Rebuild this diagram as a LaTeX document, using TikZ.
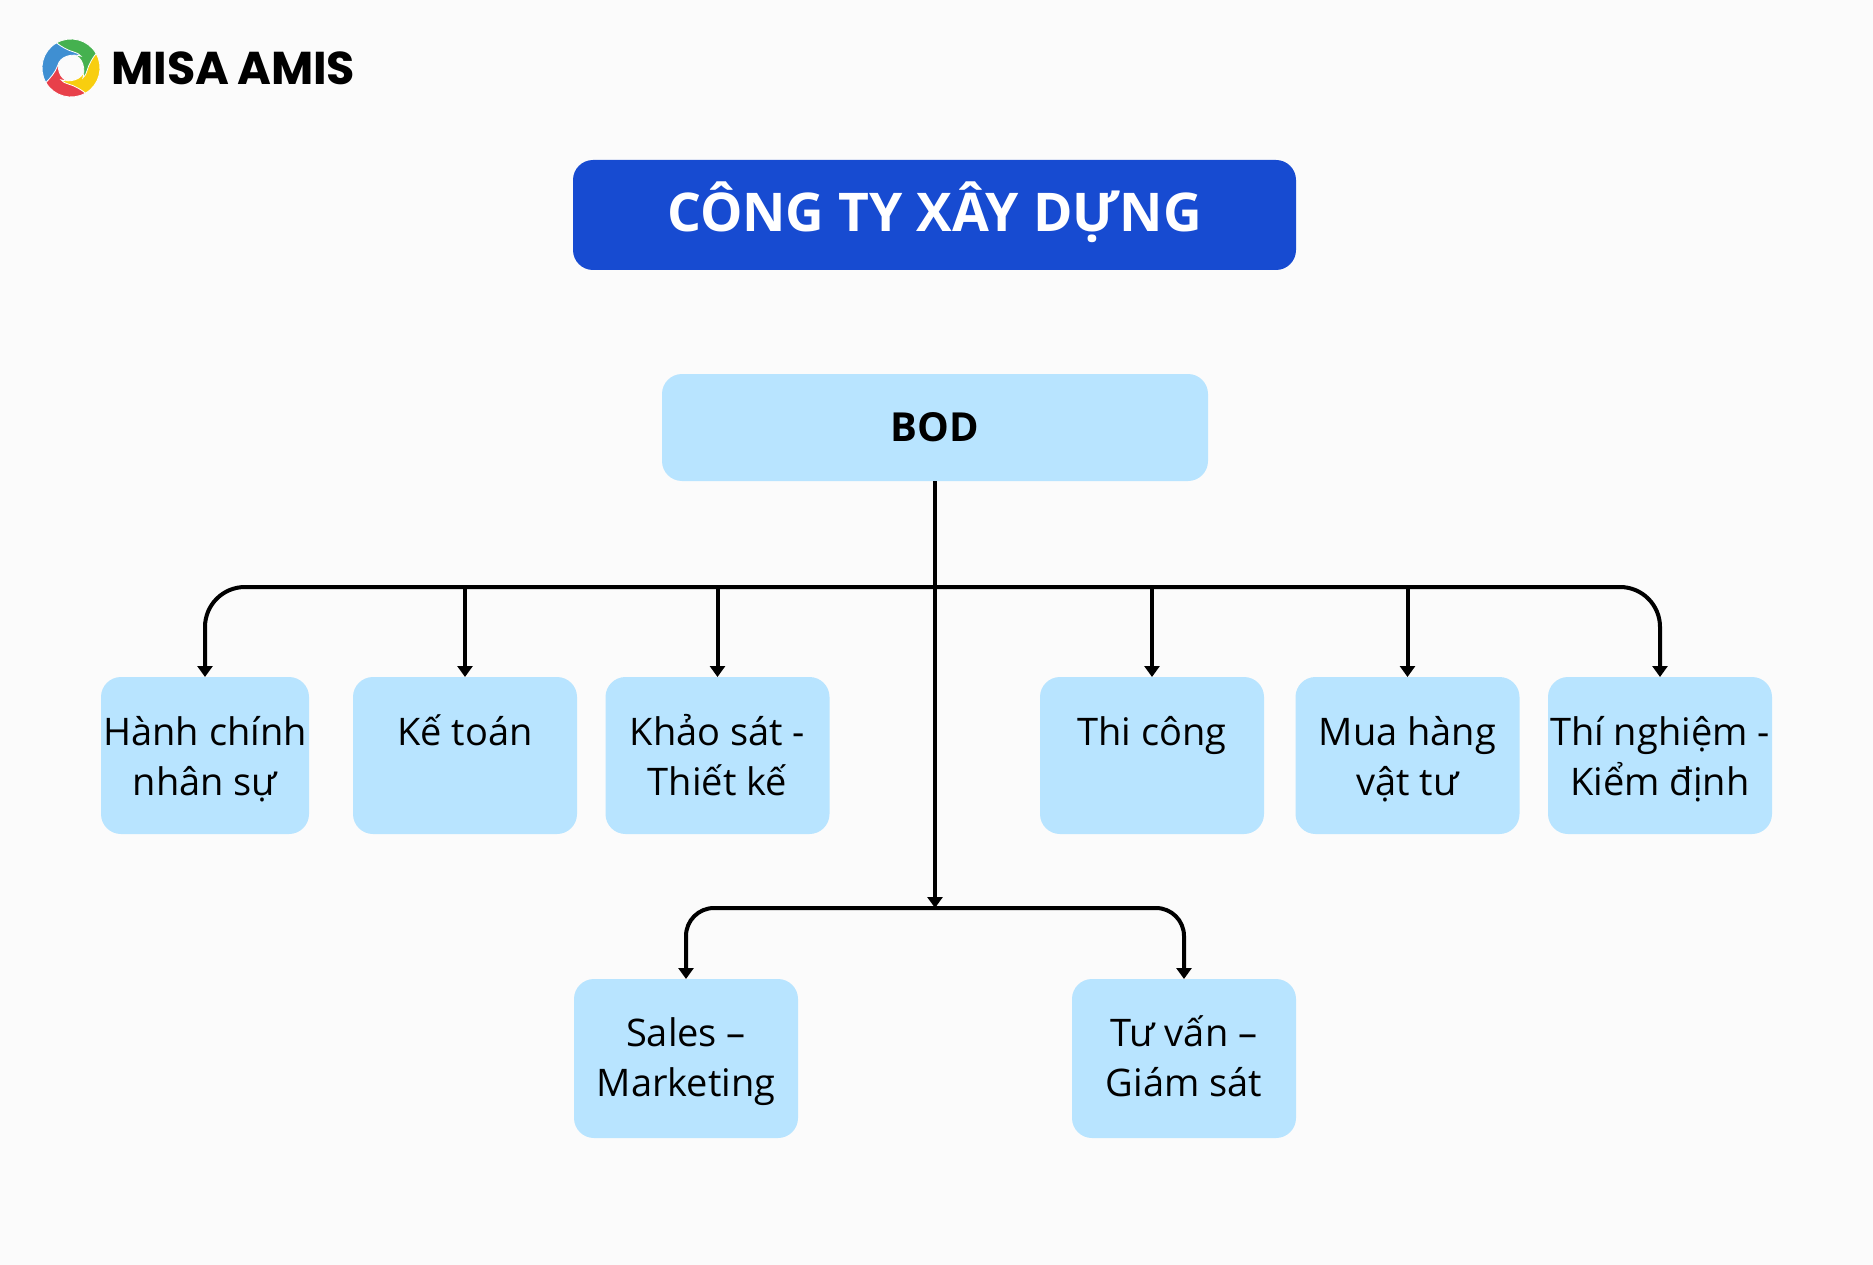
\documentclass[tikz,border=0pt]{standalone}
\usepackage{fontspec}
\setmainfont{Open Sans}
\newfontfamily\logofont{Poppins}
\usetikzlibrary{arrows.meta}
\definecolor{bgc}{HTML}{FBFBFB}
\definecolor{boxc}{HTML}{B8E4FF}
\definecolor{titlec}{HTML}{174BD1}
\definecolor{logoblue}{HTML}{3F8FD2}
\definecolor{logogreen}{HTML}{45B14F}
\definecolor{logoyellow}{HTML}{F8CE0F}
\definecolor{logored}{HTML}{E8404A}
\newcommand\rowa{\rule[-10pt]{0pt}{49pt}}
\newcommand\rowb{\rule[-12pt]{0pt}{49pt}}
\tikzset{
  x=1pt,y=-1pt,
  titlebox/.style={fill=titlec,text=white,rounded corners=20pt,inner sep=0pt,outer sep=0pt,text height=46pt,text depth=12pt,font=\fontsize{53.4}{60}\selectfont\bfseries},
  bodbox/.style={fill=boxc,rounded corners=20pt,inner sep=0pt,outer sep=0pt,font=\fontsize{40}{50}\selectfont\bfseries},
  dept/.style={fill=boxc,rounded corners=20pt,inner sep=0pt,outer sep=0pt,minimum height=157pt,align=center,font=\fontsize{38}{50}\selectfont},
  conn/.style={draw=black,line width=4pt,line join=round,-{Triangle[length=11pt,width=15pt]}},
  connboth/.style={draw=black,line width=4pt,line join=round,{Triangle[length=11pt,width=15pt]}-{Triangle[length=11pt,width=15pt]}},
}
\begin{document}
\begin{tikzpicture}
\useasboundingbox (0,0) rectangle (1873,1265);
\fill[bgc] (0,0) rectangle (1873,1265);
% logo
\begin{scope}[shift={(71,68)},x=29pt,y=29pt]
\foreach \c/\a in {logored/90,logoyellow/180,logogreen/270,logoblue/0}{
  \fill[\c,rotate=\a,draw=white,line width=0.8pt]
    (210:1) arc (210:120:1)
    .. controls (-0.35,0.75) and (-0.15,0.62) .. (0.10,0.55)
    .. controls (0.20,0.53) and (0.28,0.48) .. (0.34,0.41)
    .. controls (0.05,0.50) and (-0.38,0.42) .. (-0.46,0.08)
    .. controls (-0.54,-0.15) and (-0.72,-0.35) .. (210:1) -- cycle;
}
\end{scope}
\node[anchor=base west,inner sep=0pt,font=\logofont\fontsize{46}{56}\selectfont\bfseries] (logotext) at (111.5,85) {MISA\hspace{7.5pt}AMIS};
% boxes
\node[titlebox,minimum width=723pt,minimum height=110pt] (title) at (934.5,215) {CÔNG TY XÂY DỰNG};
\node[bodbox,minimum width=546pt,minimum height=107pt] (bod) at (935,427.5) {BOD};
\node[dept,minimum width=208pt] (hc) at (205,755.5) {\rowa Hành chính\\\rowa nhân sự};
\node[dept,minimum width=224pt] (kt) at (465,755.5) {\rowa Kế toán\\\rowa};
\node[dept,minimum width=224pt] (ks) at (717.5,755.5) {\rowa Khảo sát -\\\rowa Thiết kế};
\node[dept,minimum width=224pt] (tc) at (1152,755.5) {\rowa Thi công\\\rowa};
\node[dept,minimum width=224pt] (mh) at (1407.5,755.5) {\rowa Mua hàng\\\rowa vật tư};
\node[dept,minimum width=224pt] (tn) at (1660,755.5) {\rowa Thí nghiệm -\\\rowa Kiểm định};
\node[dept,minimum width=224pt,minimum height=159pt] (sm) at (686,1058.5) {\rowb Sales –\\\rowb Marketing};
\node[dept,minimum width=224pt,minimum height=159pt] (tv) at (1184,1058.5) {\rowb Tư vấn –\\\rowb Giám sát};
% connectors
\coordinate (bus) at (935,587);
\coordinate (hub) at (935,908);
\draw[conn] (bod.south) -- (hub);
\draw[connboth,rounded corners=40pt] (hc.north) -- (hc.north |- bus) -- (tn.north |- bus) -- (tn.north);
\draw[conn] (kt.north |- bus) -- (kt.north);
\draw[conn] (ks.north |- bus) -- (ks.north);
\draw[conn] (tc.north |- bus) -- (tc.north);
\draw[conn] (mh.north |- bus) -- (mh.north);
\draw[connboth,rounded corners=28pt] (sm.north) -- (sm.north |- hub) -- (tv.north |- hub) -- (tv.north);
\end{tikzpicture}
\end{document}
